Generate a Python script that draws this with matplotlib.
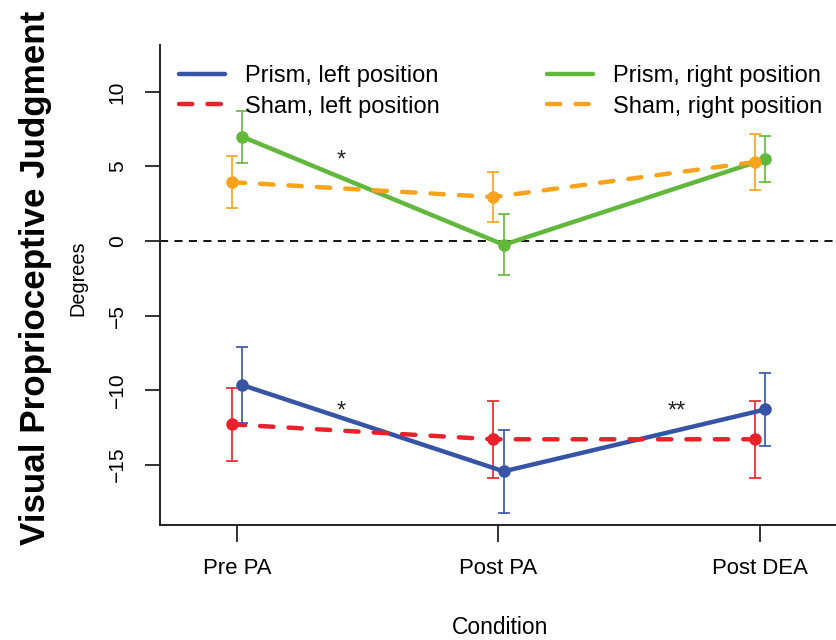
import numpy as np
import matplotlib
matplotlib.use("Agg")
import matplotlib.pyplot as plt
from matplotlib import font_manager

# data (degrees)
conditions = ["Pre PA", "Post PA", "Post DEA"]
prism_left = [-9.66, -15.45, -11.3]
prism_left_err = [2.55, 2.8, 2.45]
sham_left = [-12.3, -13.3, -13.3]
sham_left_err = [2.45, 2.6, 2.6]
prism_right = [7.0, -0.25, 5.5]
prism_right_err = [1.75, 2.05, 1.55]
sham_right = [3.95, 2.95, 5.3]
sham_right_err = [1.75, 1.7, 1.85]

# significance marks: (x position between conditions, y, text)
stars = [(0.4, 5.45, "*"), (0.4, -11.4, "*"), (1.68, -11.4, "**")]

BLUE = "#3653a6"
RED = "#e8212b"
GREEN = "#62b83c"
ORANGE = "#f8a31c"

names = {f.name for f in font_manager.fontManager.ttflist}
if "Liberation Sans Narrow" in names:
    family, k = "Liberation Sans Narrow", 1.0
else:
    family, k = "Liberation Sans", 0.84
plt.rcParams["font.family"] = family

fig = plt.figure(figsize=(8.37, 6.4), dpi=100)
ax = fig.add_axes([160 / 837, 1 - 525 / 640, 1 - 160 / 837, (525 - 45) / 640])

x = np.arange(len(conditions))
dodge = 0.02


def series(vals, errs, color, ls, shift, label):
    xs = x + shift
    ax.errorbar(xs, vals, yerr=errs, fmt="none", ecolor=color, elinewidth=1.2,
                capsize=4.3, capthick=1.2, zorder=3)
    line, = ax.plot(xs, vals, color=color, lw=3.2, zorder=4, label=label,
                    solid_capstyle="round", dash_capstyle="round")
    if ls == "dashed":
        line.set_dashes((3.0, 3.4))
    ax.plot(xs, vals, "o", color=color, ms=8, zorder=5)
    return line


h1 = series(prism_left, prism_left_err, BLUE, "solid", dodge, "Prism, left position")
h2 = series(sham_left, sham_left_err, RED, "dashed", -dodge, "Sham, left position")
h3 = series(prism_right, prism_right_err, GREEN, "solid", dodge, "Prism, right position")
h4 = series(sham_right, sham_right_err, ORANGE, "dashed", -dodge, "Sham, right position")

ax.axhline(0, color="black", lw=1.3, ls=(0, (4.5, 3.5)), zorder=2)

for sx, sy, s in stars:
    ax.text(sx, sy, s, ha="center", va="center", fontsize=20 * k, color="#222222")

ax.set_xlim(-0.294, 2.294)
ax.set_ylim(-19.05, 13.15)
ax.set_xticks(x)
ax.set_xticklabels(conditions, fontsize=19 * k)
ax.set_yticks([-15, -10, -5, 0, 5, 10])
ax.set_yticklabels(["\u221215", "\u221210", "\u22125", "0", "5", "10"],
                   fontsize=18 * k, rotation=90, va="center")
ax.tick_params(axis="x", length=12, width=1.3, pad=12, color="#222222")
ax.tick_params(axis="y", length=11, width=1.3, pad=13, color="#222222")
for side in ["top", "right"]:
    ax.spines[side].set_visible(False)
for side in ["left", "bottom"]:
    ax.spines[side].set_linewidth(1.4)
    ax.spines[side].set_color("#222222")

ax.legend(handles=[h1, h2, h3, h4], ncol=2, frameon=False, fontsize=20.3 * k,
          loc="upper left", bbox_to_anchor=(0.028, 0.958), handlelength=1.95,
          handletextpad=0.85, columnspacing=4.5, labelspacing=0.36, borderpad=0,
          borderaxespad=0)

fig.text(500 / 837, 1 - 627 / 640, "Condition", ha="center", va="center",
         fontsize=19.5 * k)
fig.text(78 / 837, 1 - 278 / 640, "Degrees", rotation=90, ha="center",
         va="center", fontsize=17 * k)
fig.text(36 / 837, 1 - 278 / 640, "Visual Proprioceptive Judgment", rotation=90,
         ha="center", va="center", fontsize=30 * k, fontweight="bold")

fig.savefig("out.png", dpi=100)
